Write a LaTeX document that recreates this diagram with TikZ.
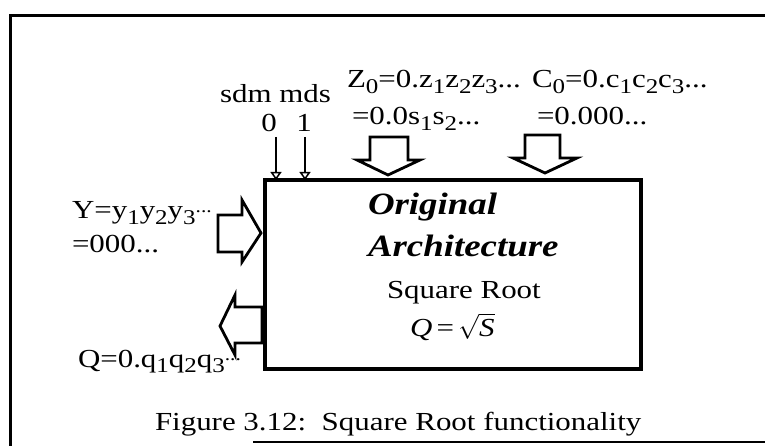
\documentclass[tikz,border=0pt]{standalone}
\usepackage{fontspec}
\setmainfont[FakeStretch=1.19]{Liberation Serif}
\usetikzlibrary{arrows.meta}
\newcommand\sbs[1]{\raisebox{-0.22em}{\fontsize{21}{21}\selectfont #1}}
\newcommand\mdots{\raisebox{0.25em}{\fontsize{18}{18}\selectfont ...}}
\begin{document}
\begin{tikzpicture}[x=1pt,y=-1pt,
  lbl/.style={anchor=base west, inner sep=0, outer sep=0, font=\fontsize{26}{30}\selectfont},
  title/.style={anchor=base west, inner sep=0, outer sep=0, font=\fontsize{31}{36}\selectfont\bfseries\itshape},
  blk/.style={draw, line width=2.8pt, fill=white, line join=miter},
  thinarrow/.style={line width=1.5pt, -{Triangle[open, width=11pt, length=8pt]}},
  frame/.style={line width=3pt},
  mainbox/.style={draw, line width=4pt, minimum width=376pt, minimum height=189pt, inner sep=0, outer sep=0}
]
\useasboundingbox (0,0) rectangle (765,446);
% frame
\draw[frame] (765,16) -- (10,16) -- (10,446);
\draw[line width=2pt] (253,442) -- (765,442);
% main box
\node[mainbox] (box) at (453,274.5) {};
% labels
\node[lbl] (sdm) at (220,103) {sdm mds};
\node[lbl, anchor=base] (d0) at (269,132) {0};
\node[lbl, anchor=base] (d1) at (304,132) {1};
\node[lbl] (z0) at (347,88) {Z\sbs{0}=0.z\sbs{1}z\sbs{2}z\sbs{3}...};
\node[lbl] (z1) at (352,125) {=0.0s\sbs{1}s\sbs{2}...};
\node[lbl] (c0) at (532,88) {C\sbs{0}=0.c\sbs{1}c\sbs{2}c\sbs{3}...};
\node[lbl] (c1) at (537,125) {=0.000...};
\node[lbl] (y0) at (72,219) {Y=y\sbs{1}y\sbs{2}y\sbs{3}\mdots};
\node[lbl] (y1) at (72,253) {=000...};
\node[lbl] (q0) at (78,367) {Q=0.q\sbs{1}q\sbs{2}q\sbs{3}\mdots};
\node[title] (t1) at (368,215) {Original};
\node[title] (t2) at (368,257) {Architecture};
\node[lbl] (t3) at (387,298) {Square Root};
\node[lbl] (t4) at (410,336) {\raisebox{0pt}[0.7em][0.1em]{\textit{Q}\,=\,$\sqrt{\hbox{\itshape S}}$}};
\node[lbl] (cap) at (155,430) {Figure 3.12:\ \ Square Root functionality};
% thin arrows
\coordinate (a0) at (276,137);
\coordinate (a1) at (305,137);
\draw[thinarrow] (a0) -- (a0 |- box.north);
\draw[thinarrow] (a1) -- (a1 |- box.north);
% block arrows down
\draw[blk] (370,137) -- (408,137) -- (408,160) -- (420,160) -- (388,175) -- (357,160) -- (370,160) -- cycle;
\draw[blk] (525,135) -- (560,135) -- (560,158) -- (577,158) -- (545,173) -- (513,158) -- (525,158) -- cycle;
% block arrow right (Y input)
\draw[blk] (218,215) -- (242,215) -- (242,200) -- (261,233) -- (242,262) -- (242,252) -- (218,252) -- cycle;
% block arrow left (Q output)
\draw[blk] (262,307) -- (235,307) -- (235,295) -- (220,326) -- (235,355) -- (235,343) -- (262,343) -- cycle;
\end{tikzpicture}
\end{document}
